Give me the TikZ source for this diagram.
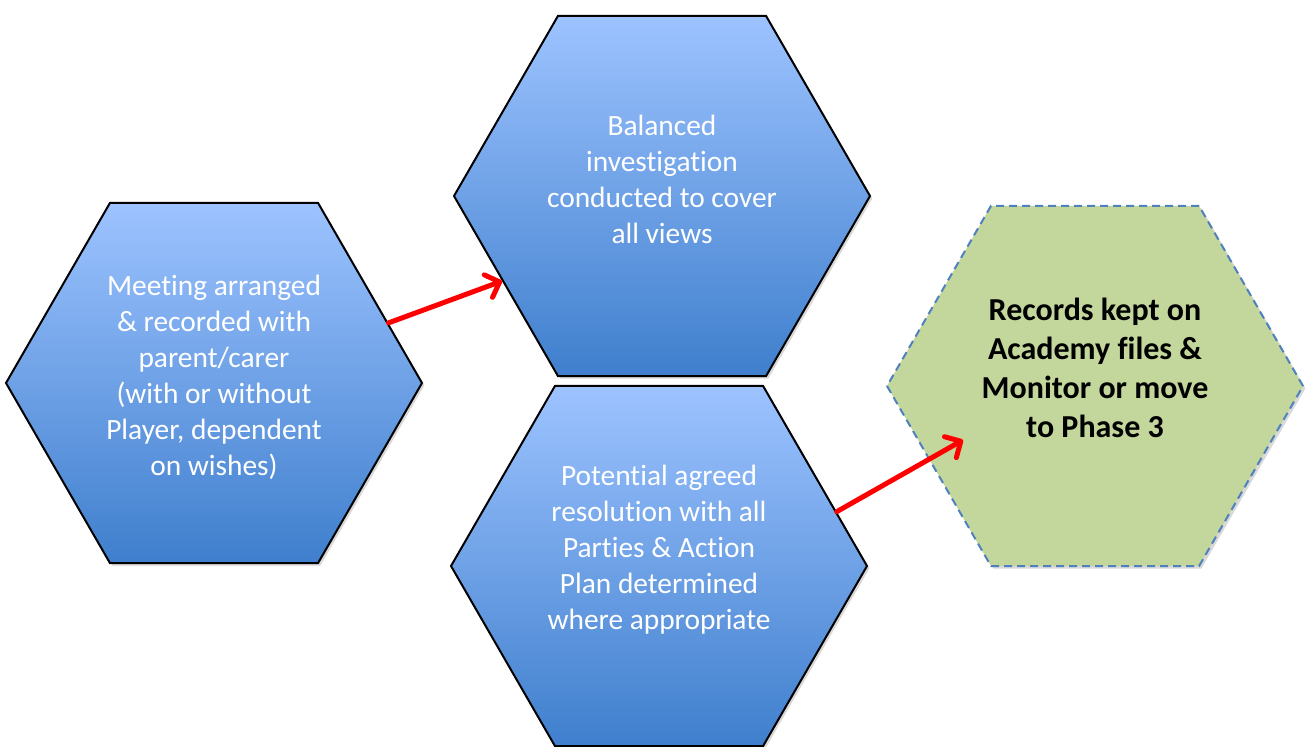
\documentclass[tikz,border=0pt]{standalone}
\usepackage{fontspec}
\setmainfont{Carlito}[Ligatures=NoCommon]
\usepackage{tikz}
\usepackage{xcolor}
\usetikzlibrary{shapes.geometric,shadows,arrows.meta}

\definecolor{hexlight}{RGB}{157,195,255}
\definecolor{hexdark}{RGB}{63,127,205}
\definecolor{hexgreen}{RGB}{195,214,155}
\definecolor{dashblue}{RGB}{79,129,189}

\begin{document}
\begin{tikzpicture}[%
        x=0.5pt, y=-0.5pt,
        phase/.style={ regular polygon, regular polygon sides=6, minimum size=208pt, inner sep=0pt, line width=1pt, draw=black, top color=hexlight, bottom color=hexdark, drop shadow={opacity=.3, shadow xshift=1.2pt, shadow yshift=-1.2pt} },%
        outcome/.style={ regular polygon, regular polygon sides=6, minimum size=208pt, inner sep=0pt, line width=1pt, draw=dashblue, dash pattern=on 4pt off 2.5pt, fill=hexgreen, drop shadow={opacity=.3, shadow xshift=1.2pt, shadow yshift=-1.2pt} },%
        phasetext/.style={ text=white, align=center, font=\fontsize{14.7}{18}\selectfont },%
        outcometext/.style={ text=black, align=center, font=\fontsize{16}{19.5}\selectfont\bfseries },%
        flow/.style={ draw=red, line width=2.5pt, line cap=round, -{Straight Barb[length=6pt,width=12pt,round]} }%
      ]
      \useasboundingbox (0,0) rectangle (1309,747);
      \clip (0,0) rectangle (1309,747);
      \node (meet)   at ( 214, 383) [phase]{};
      \node (invest) at ( 662, 196) [phase]{};
      \node (resol)  at ( 659, 566) [phase]{};
      \node (rec)    at (1095, 386) [outcome]{};
      \node (meettext)   at ( 214, 377) [phasetext]{Meeting arranged\\\& recorded with\\parent/carer\\(with or without\\Player, dependent\\on wishes)};
      \node (investtext) at ( 662, 179) [phasetext]{Balanced\\investigation\\conducted to cover\\all views};
      \node (resoltext)  at ( 659, 550) [phasetext]{Potential agreed\\resolution with all\\Parties \& Action\\Plan determined\\where appropriate};
      \node (rectext)    at (1095, 368) [outcometext]{Records kept on\\Academy files \&\\Monitor or move\\to Phase 3};
      \coordinate (tip) at (963, 440);
      \draw [flow] (meet.19) -- (invest.208);
      \draw [flow] (resol.17) -- (tip);
    \end{tikzpicture}
\end{document}
